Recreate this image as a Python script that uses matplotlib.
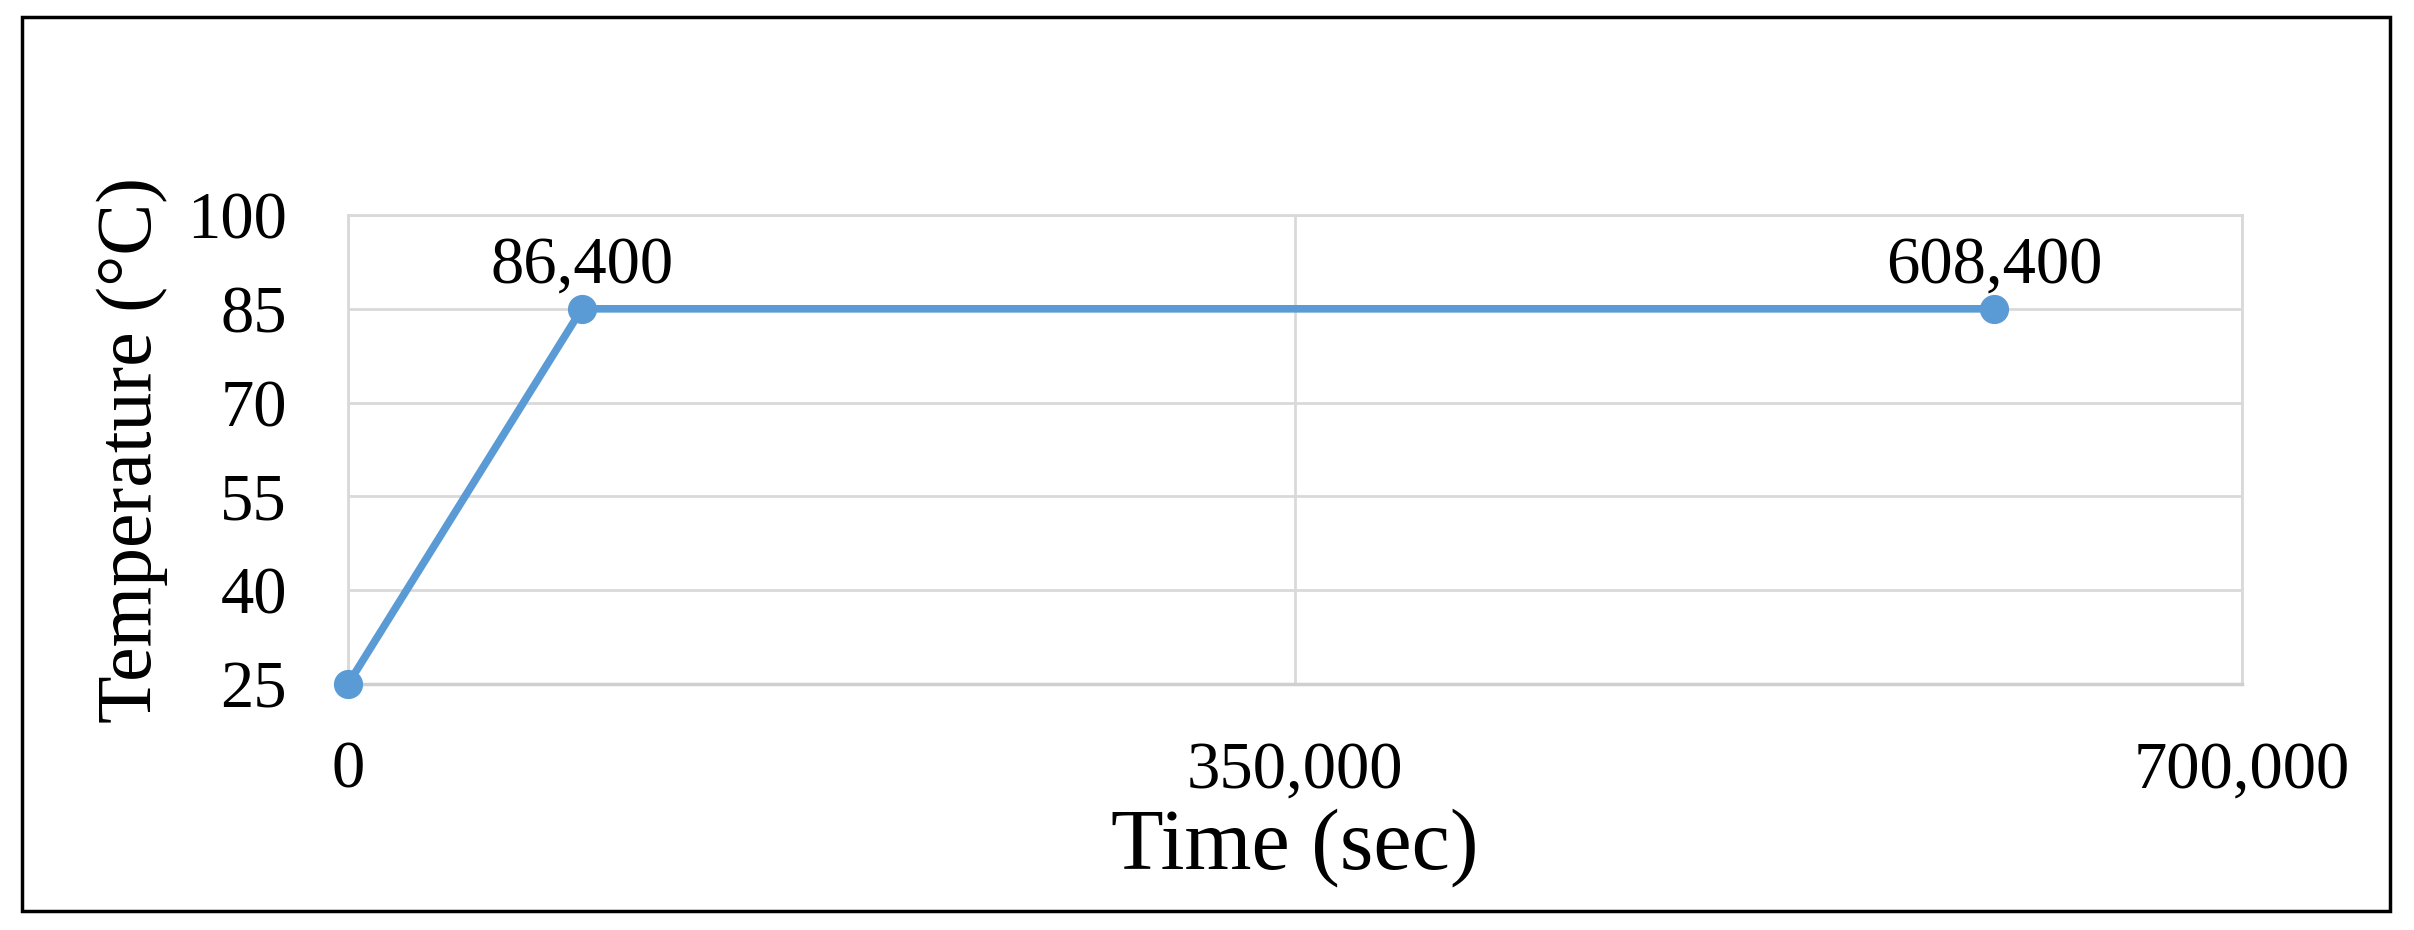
import numpy as np
import matplotlib
matplotlib.use("Agg")
import matplotlib.pyplot as plt
from matplotlib.patches import Rectangle
from matplotlib.ticker import FuncFormatter

# Data
time_sec = [0, 86400, 608400]
temperature = [25, 85, 85]
labelled_points = [1, 2]
x_ticks = [0, 350000, 700000]
y_ticks = [25, 40, 55, 70, 85, 100]

plt.rcParams['font.family'] = ['Liberation Serif', 'DejaVu Serif']

fig = plt.figure(figsize=(24.14, 9.3), dpi=100)
ax = fig.add_axes([0.1442, 0.2645, 0.9288 - 0.1442, 0.7688 - 0.2645])

line_color = '#5b9bd5'
grid_color = '#d9d9d9'

ax.plot(time_sec, temperature, color=line_color, linewidth=5.5, marker='o',
        markersize=20, zorder=3, clip_on=False)

# data labels above the points
for i in labelled_points:
    ax.annotate(f"{time_sec[i]:,}", (time_sec[i], temperature[i]),
                xytext=(0, 9), textcoords='offset points',
                ha='center', va='bottom', fontsize=48)

ax.set_xlim(0, 700000)
ax.set_ylim(25, 100)
ax.set_xticks(x_ticks)
ax.set_yticks(y_ticks)
ax.xaxis.set_major_formatter(FuncFormatter(lambda v, p: f"{int(v):,}"))

ax.grid(True, color=grid_color, linewidth=2, zorder=0)
ax.set_axisbelow(True)
for side in ['top', 'right', 'left']:
    ax.spines[side].set_color(grid_color)
    ax.spines[side].set_linewidth(2)
ax.spines['bottom'].set_color('#cfcfcf')
ax.spines['bottom'].set_linewidth(2.5)

ax.tick_params(axis='both', length=0, labelsize=48)
ax.tick_params(axis='x', pad=41)
ax.tick_params(axis='y', pad=44)

ax.set_xlabel("Time (sec)", fontsize=62, labelpad=4)
ax.set_ylabel("Temperature (°C)", fontsize=56, labelpad=14)

# outer black frame
fig.patches.append(Rectangle((0.0091, 0.0204), 0.9901 - 0.0091, 0.9817 - 0.0204,
                             transform=fig.transFigure, fill=False,
                             edgecolor='black', linewidth=2.5))

fig.savefig("out.png", dpi=100)
